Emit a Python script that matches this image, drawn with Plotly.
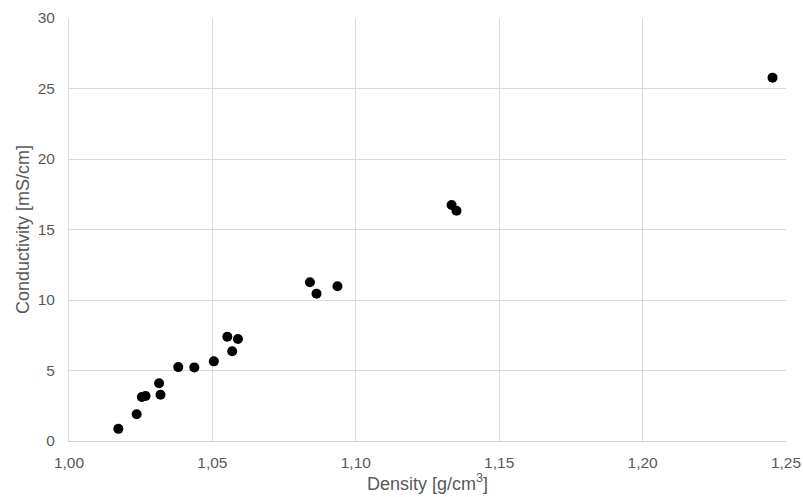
import plotly.graph_objects as go

density = [1.0172, 1.0236, 1.0254, 1.0267, 1.0314, 1.0319, 1.0381, 1.0437,
           1.0505, 1.0552, 1.0569, 1.0589, 1.0840, 1.0863, 1.0936,
           1.1334, 1.1351, 1.2453]
conductivity = [0.86, 1.90, 3.12, 3.19, 4.09, 3.28, 5.24, 5.22,
                5.65, 7.39, 6.36, 7.24, 11.26, 10.45, 10.97,
                16.74, 16.33, 25.77]

x_ticks = [1.00, 1.05, 1.10, 1.15, 1.20, 1.25]
y_ticks = [0, 5, 10, 15, 20, 25, 30]

fig = go.Figure(go.Scatter(
    x=density, y=conductivity, mode="markers",
    marker=dict(color="black", size=10, line=dict(width=0)),
    showlegend=False,
))

axis_font = dict(family="Liberation Sans, Arial, sans-serif", size=15.5, color="#595959")
title_font = dict(family="Liberation Sans, Arial, sans-serif", size=18, color="#595959")

fig.update_layout(
    width=803, height=497,
    margin=dict(l=69, r=17, t=18, b=56, autoexpand=False),
    paper_bgcolor="white", plot_bgcolor="white",
    separators=", ",
    xaxis=dict(
        range=[1.00, 1.25], tickvals=x_ticks, tickformat=".2f",
        showgrid=True, gridcolor="#d9d9d9", gridwidth=1,
        showline=True, linecolor="#d0d0d0", linewidth=1,
        zeroline=False, ticks="", tickfont=axis_font,
        ticklabelstandoff=7, ticklabeloverflow="allow",
        automargin=False,
        title=dict(text="Density [g/cm<sup>3</sup>]", font=title_font, standoff=7),
    ),
    yaxis=dict(
        range=[0, 30], tickvals=y_ticks,
        showgrid=True, gridcolor="#d9d9d9", gridwidth=1,
        showline=True, linecolor="#d9d9d9", linewidth=1,
        zeroline=False, ticks="", tickfont=axis_font,
        ticklabelstandoff=10, ticklabeloverflow="allow",
        automargin=False,
        title=dict(text="Conductivity [mS/cm]", font=title_font, standoff=3),
    ),
)

fig.write_html("out.html",
               config={"displayModeBar": False},
               post_script="document.body.style.margin='0';document.body.style.overflow='hidden';")
